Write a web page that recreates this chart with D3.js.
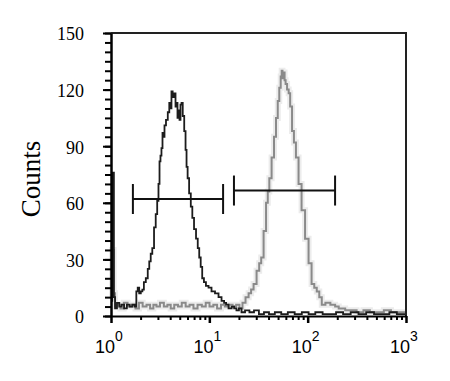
<!DOCTYPE html>
<html>
<head>
<meta charset="utf-8">
<script src="https://cdn.jsdelivr.net/npm/d3@7"></script>
<style>
  body { margin: 0; background: #fff; }
  svg { display: block; }
</style>
</head>
<body>
<div id="chart"></div>
<script>
// fluorescence intensity (log axis) and counts
var blackX = [1.0, 1.06, 1.08, 1.12, 1.18, 1.25, 1.32, 1.4, 1.5, 1.6, 1.7, 1.78, 1.84, 1.9, 1.97, 2.05, 2.12, 2.2, 2.32, 2.41, 2.49, 2.58, 2.68, 2.8, 2.9, 3.0, 3.08, 3.15, 3.22, 3.3, 3.38, 3.46, 3.54, 3.71, 3.85, 3.98, 4.07, 4.17, 4.3, 4.48, 4.58, 4.69, 4.8, 4.92, 5.03, 5.15, 5.28, 5.45, 5.66, 5.8, 5.93, 6.1, 6.36, 6.6, 6.83, 7.15, 7.5, 7.75, 8.04, 8.3, 8.63, 9.0, 9.48, 10.16, 10.9, 11.97, 12.85, 13.78, 14.5, 15.14, 16.24, 17.5, 18.26, 19.5, 20.5, 22, 24.2, 27, 30, 34, 38, 43, 50, 58, 68, 80, 95, 110, 130, 155, 180, 210, 250, 300, 360, 430, 520, 620, 740, 880, 1000];
var blackCounts = [8, 76, 10, 4, 7, 5, 6, 4, 6, 5, 6, 5, 13, 15, 12, 13, 14, 18, 20, 25, 29, 33, 36, 47, 54, 61, 70, 82, 85, 89, 97, 95, 101, 104, 108, 113, 110, 119, 116, 118, 111, 113, 105, 109, 104, 112, 113, 106, 98, 88, 79, 73, 65, 58, 52, 46, 41, 36, 31, 26, 20, 18, 16, 15, 13, 12, 10, 8, 7, 6, 4, 5, 4, 3, 4, 2, 3, 2, 3, 1, 2, 1, 2, 1, 2, 1, 2, 1, 2, 1, 1, 2, 1, 2, 1, 2, 1, 1, 2, 1, 1];

var greyX = [1.0, 1.05, 1.08, 1.12, 1.2, 1.3, 1.4, 1.55, 1.7, 1.85, 2.0, 2.2, 2.4, 2.6, 2.8, 3.0, 3.3, 3.6, 3.9, 4.2, 4.6, 5.0, 5.5, 6.0, 6.6, 7.2, 8.0, 8.8, 9.6, 10.5, 11.5, 12.5, 13.8, 15, 16.5, 18, 19.5, 21, 22.5, 24.2, 26, 27.2, 29.2, 31.3, 33, 34.4, 36.9, 38.6, 40, 41.5, 44.5, 46.5, 48.8, 50.5, 52.4, 54, 54.9, 56, 57.5, 59, 60.3, 63.2, 65, 67.8, 71, 74, 78, 83.7, 89.8, 98.6, 105.8, 113.5, 120, 127.6, 135, 143.4, 160, 181, 200, 214, 230, 252, 290, 341, 400, 460, 545, 650, 760, 871, 1000];
var greyCounts = [10, 35, 12, 5, 6, 4, 7, 5, 6, 4, 7, 5, 6, 4, 6, 5, 7, 5, 6, 4, 6, 5, 7, 5, 6, 4, 6, 5, 7, 5, 6, 4, 6, 5, 6, 5, 6, 4, 7, 10, 12, 14, 17, 24, 28, 31, 45, 60, 66, 73, 84, 95, 105, 114, 121, 127, 130, 126, 129, 125, 123, 120, 118, 111, 98, 92, 84, 70, 56, 41, 28, 17, 15, 13, 10, 6, 7, 6, 5, 4, 4, 3, 3, 2, 3, 2, 2, 3, 2, 2, 2];

// marker gates: [start, end, level]
var gateLeft = [1.67, 13.8, 62];
var gateRight = [17.8, 190, 66.5];

var yTicks = [0, 30, 60, 90, 120, 150];
var yMinor = d3.range(0, 151, 5);
var xTicks = [1, 10, 100, 1000];
var xExp = ["0", "1", "2", "3"];

var margin = {top: 33, right: 44, bottom: 65, left: 111},
    width = 450 - margin.left - margin.right,
    height = 381 - margin.top - margin.bottom;

var svg = d3.select("#chart").append("svg")
    .attr("width", 450)
    .attr("height", 381);

var g = svg.append("g")
    .attr("transform", "translate(" + margin.left + "," + margin.top + ")");

var x = d3.scaleLog().domain([1, 1000]).range([0, width]);
var y = d3.scaleLinear().domain([0, 150]).range([height, 0]);

var xMinor = [];
[1, 10, 100].forEach(function(d) {
    for (var k = 2; k <= 9; k++) xMinor.push(d * k);
});

var line = d3.line()
    .x(function(d) { return x(d[0]); })
    .y(function(d) { return y(d[1]); })
    .curve(d3.curveStep);

var black = blackX.map(function(d, i) { return [d, blackCounts[i]]; });
var grey = greyX.map(function(d, i) { return [d, greyCounts[i]]; });

// soft halo like the scanned original
g.append("path")
    .datum(grey)
    .attr("d", line)
    .attr("fill", "none")
    .attr("stroke", "#ececec")
    .attr("stroke-width", 6);

g.append("path")
    .datum(grey)
    .attr("d", line)
    .attr("fill", "none")
    .attr("stroke", "#8a8a8a")
    .attr("stroke-width", 2);

g.append("path")
    .datum(black)
    .attr("d", line)
    .attr("fill", "none")
    .attr("stroke", "#1c1c1c")
    .attr("stroke-width", 1.8);

// gates
[gateLeft, gateRight].forEach(function(gt) {
    var gg = g.append("g").attr("stroke", "#111").attr("stroke-width", 2);
    gg.append("line")
        .attr("x1", x(gt[0])).attr("x2", x(gt[1]))
        .attr("y1", y(gt[2])).attr("y2", y(gt[2]));
    [gt[0], gt[1]].forEach(function(v) {
        gg.append("line")
            .attr("x1", x(v)).attr("x2", x(v))
            .attr("y1", y(gt[2]) - 15).attr("y2", y(gt[2]) + 15);
    });
});

// frame top/right
g.append("path")
    .attr("d", "M0,0H" + width + "V" + height)
    .attr("fill", "none")
    .attr("stroke", "#222")
    .attr("stroke-width", 2);

// y axis
g.append("g")
    .call(d3.axisLeft(y).tickValues(yMinor).tickSize(6).tickFormat(""))
    .call(function(a) { a.select(".domain").remove(); })
    .selectAll("line").attr("stroke-width", 2);

var yAxis = g.append("g")
    .call(d3.axisLeft(y).tickValues(yTicks).tickSize(8).tickPadding(19).tickSizeOuter(0));
yAxis.select(".domain").attr("stroke-width", 2.5);
yAxis.selectAll("line").attr("stroke-width", 2);
yAxis.selectAll("text")
    .attr("font-family", "'Liberation Serif', serif")
    .attr("font-size", 18)
    .attr("dy", "0.38em")
    .attr("fill", "#000");

// x axis
g.append("g")
    .attr("transform", "translate(0," + height + ")")
    .call(d3.axisBottom(x).tickValues(xMinor).tickSize(4).tickFormat(""))
    .call(function(a) { a.select(".domain").remove(); })
    .selectAll("line").attr("stroke-width", 2);

var xAxis = g.append("g")
    .attr("transform", "translate(0," + height + ")")
    .call(d3.axisBottom(x).tickValues(xTicks).tickSize(7).tickFormat("").tickSizeOuter(0));
xAxis.select(".domain").attr("stroke-width", 2);
xAxis.selectAll("line").attr("stroke-width", 2.5);

var xl = g.append("g")
    .attr("font-family", "'Liberation Sans', Arial, sans-serif")
    .attr("fill", "#000")
    .selectAll("text")
    .data(xTicks)
    .enter().append("text")
    .attr("x", function(d) { return x(d) - 2; })
    .attr("y", height + 37)
    .attr("text-anchor", "middle");
xl.append("tspan").attr("font-size", 18).text("10");
xl.append("tspan").attr("font-size", 14).attr("dy", -12)
    .text(function(d, i) { return xExp[i]; });

svg.append("text")
    .attr("transform", "translate(40,179) rotate(-90)")
    .attr("text-anchor", "middle")
    .attr("font-family", "'Liberation Serif', serif")
    .attr("font-size", 27)
    .attr("fill", "#000")
    .text("Counts");
</script>
</body>
</html>
